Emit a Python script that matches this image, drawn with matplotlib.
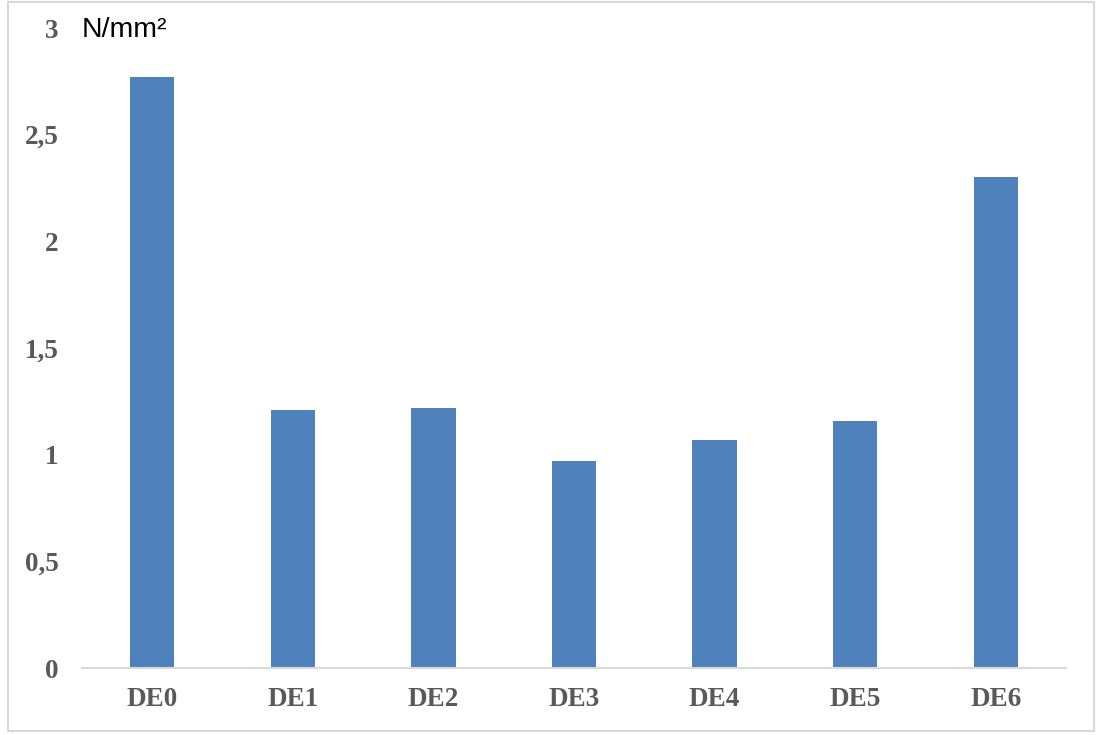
import matplotlib.pyplot as plt
from matplotlib.patches import Rectangle

categories = ['DE0', 'DE1', 'DE2', 'DE3', 'DE4', 'DE5', 'DE6']
values = [2.77, 1.21, 1.22, 0.97, 1.07, 1.16, 2.30]
yticks = [0, 0.5, 1, 1.5, 2, 2.5, 3]
ytick_labels = ['0', '0,5', '1', '1,5', '2', '2,5', '3']

fig = plt.figure(figsize=(10.97, 7.35), dpi=100)
ax = fig.add_axes([82 / 1097, 67 / 735, 984 / 1097, 640 / 735])

x = range(len(categories))
ax.bar(x, values, width=0.315, color='#4F81BD', zorder=2)

ax.set_xlim(-0.5, len(categories) - 0.5)
ax.set_ylim(0, 3)
ax.set_yticks(yticks)
ax.set_yticklabels(ytick_labels)
ax.set_xticks(list(x))
ax.set_xticklabels(categories)

for lab in ax.get_xticklabels() + ax.get_yticklabels():
    lab.set_fontfamily('Liberation Serif')
    lab.set_fontweight('bold')
    lab.set_fontsize(19.5)
    lab.set_color('#595959')

ax.tick_params(axis='both', length=0)
ax.tick_params(axis='y', pad=17)
ax.tick_params(axis='x', pad=14)

for s in ['top', 'right', 'left']:
    ax.spines[s].set_visible(False)
ax.spines['bottom'].set_color('#D9D9D9')
ax.spines['bottom'].set_linewidth(1.5)

# unit label next to the top tick
fig.text(82 / 1097, 1 - 30 / 735, 'N/mm²', fontfamily='Liberation Sans',
         fontsize=20.5, color='black', va='center', ha='left')

# light frame around the chart
fig.patches.append(Rectangle((8 / 1097, 4 / 735), 1086 / 1097, 729 / 735,
                             transform=fig.transFigure, fill=False,
                             edgecolor='#D9D9D9', linewidth=1.5))

fig.savefig('out.png', dpi=100)
